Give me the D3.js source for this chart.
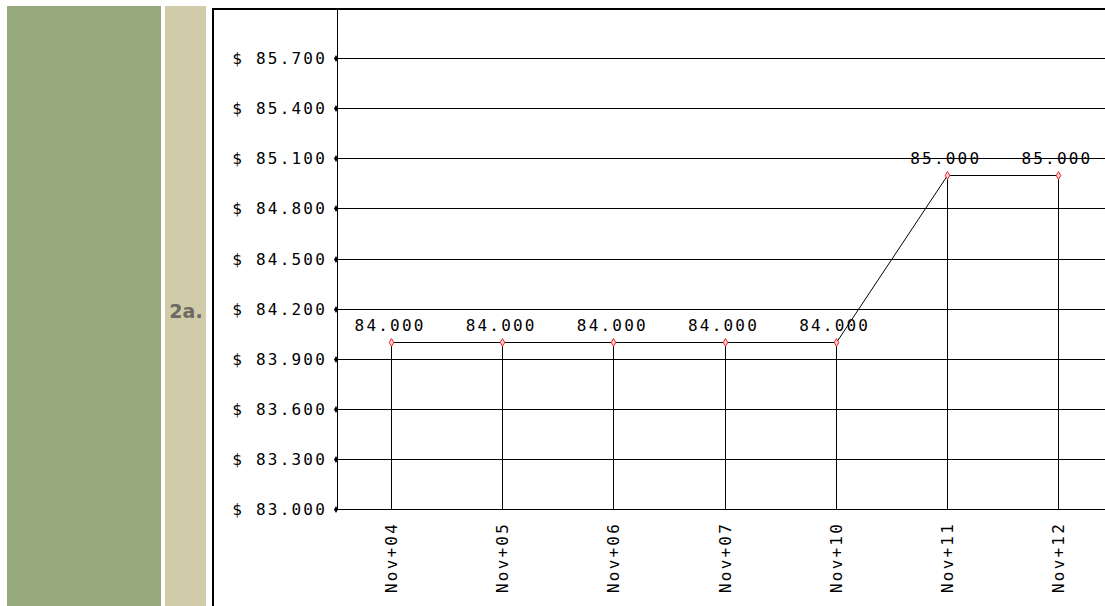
<!DOCTYPE html>
<html>
<head>
<meta charset="utf-8">
<title>2a. Price by day</title>
<style>
  body { margin: 0; background: #fff; }
  svg { display: block; }
  .lbl { font-family: "DejaVu Sans Mono", monospace; font-size: 16px; letter-spacing: 2.2px; fill: #000; }
</style>
</head>
<body>
<script src="https://cdn.jsdelivr.net/npm/d3@7"></script>
<script>
  // data
  var categories = ["Nov+04", "Nov+05", "Nov+06", "Nov+07", "Nov+10", "Nov+11", "Nov+12"];
  var values = [84.0, 84.0, 84.0, 84.0, 84.0, 85.0, 85.0];
  var yTicks = [83.0, 83.3, 83.6, 83.9, 84.2, 84.5, 84.8, 85.1, 85.4, 85.7];
  var yDomain = [83.0, 86.0];
  var sectionLabel = "2a.";

  var W = 1105, H = 606;
  var svg = d3.select("body").append("svg")
      .attr("width", W)
      .attr("height", H);

  // side panels
  svg.append("rect").attr("x", 7).attr("y", 6).attr("width", 154).attr("height", H).attr("fill", "#97aa7e");
  svg.append("rect").attr("x", 165).attr("y", 6).attr("width", 41).attr("height", H).attr("fill", "#d0cba8");
  svg.append("text")
      .attr("x", 186).attr("y", 318)
      .attr("text-anchor", "middle")
      .style("font-family", "DejaVu Sans, Verdana, sans-serif")
      .style("font-weight", "bold")
      .style("font-size", "19px")
      .attr("fill", "#6b6b63")
      .text(sectionLabel);

  // chart frame
  svg.append("rect")
      .attr("x", 213).attr("y", 9)
      .attr("width", W).attr("height", H)
      .attr("fill", "#fff")
      .attr("stroke", "#000")
      .attr("stroke-width", 2);

  var x = d3.scalePoint().domain(categories).range([335.5, 1113.5]).padding(0.5);
  var y = d3.scaleLinear().domain(yDomain).range([509, 8]);
  var x0 = 337;

  var g = svg.append("g").attr("shape-rendering", "crispEdges");

  // horizontal grid
  g.selectAll(".grid").data(yTicks).enter().append("line")
      .attr("x1", x0).attr("x2", W)
      .attr("y1", function (d) { return Math.round(y(d)) + 0.5; })
      .attr("y2", function (d) { return Math.round(y(d)) + 0.5; })
      .attr("stroke", "#000");

  // y axis line
  g.append("line")
      .attr("x1", x0 + 0.5).attr("x2", x0 + 0.5)
      .attr("y1", 8).attr("y2", y(yDomain[0]) + 1)
      .attr("stroke", "#000");

  // y tick markers and labels
  svg.selectAll(".ytick").data(yTicks).enter().append("path")
      .attr("d", d3.symbol().type(d3.symbolDiamond).size(14))
      .attr("transform", function (d) { return "translate(" + (x0 - 1) + "," + (Math.round(y(d)) + 0.5) + ")"; })
      .attr("fill", "#000");
  svg.selectAll(".ylab").data(yTicks).enter().append("text")
      .attr("class", "lbl")
      .attr("x", 327)
      .attr("y", function (d) { return y(d) + 6; })
      .attr("text-anchor", "end")
      .text(function (d) { return "$ " + d3.format(".3f")(d); });

  // drop lines from each point to the x axis
  g.selectAll(".drop").data(categories).enter().append("line")
      .attr("x1", function (d) { return Math.round(x(d)) + 0.5; })
      .attr("x2", function (d) { return Math.round(x(d)) + 0.5; })
      .attr("y1", function (d, i) { return y(values[i]); })
      .attr("y2", y(yDomain[0]))
      .attr("stroke", "#000");

  // series line
  var line = d3.line()
      .x(function (d, i) { return Math.round(x(categories[i])) + 0.5; })
      .y(function (d) { return Math.round(y(d)) + 0.5; });
  svg.append("path")
      .datum(values)
      .attr("d", line)
      .attr("fill", "none")
      .attr("stroke", "#000")
      .attr("stroke-width", 1);

  // point markers
  svg.selectAll(".pt").data(values).enter().append("path")
      .attr("d", d3.symbol().type(d3.symbolDiamond).size(18))
      .attr("transform", function (d, i) { return "translate(" + (Math.round(x(categories[i])) + 0.5) + "," + (Math.round(y(d)) + 0.5) + ")"; })
      .attr("fill", "#ffd0d0")
      .attr("stroke", "#e8262b")
      .attr("stroke-width", 1);

  // value labels
  svg.selectAll(".vlab").data(values).enter().append("text")
      .attr("class", "lbl")
      .attr("x", function (d, i) { return x(categories[i]) - 1; })
      .attr("y", function (d) { return y(d) - 11; })
      .attr("text-anchor", "middle")
      .text(function (d) { return d3.format(".3f")(d); });

  // x labels, rotated
  svg.selectAll(".xlab").data(categories).enter().append("text")
      .attr("class", "lbl")
      .attr("transform", function (d) { return "translate(" + (x(d) + 6) + "," + 522 + ") rotate(-90)"; })
      .attr("text-anchor", "end")
      .text(function (d) { return d; });
</script>
</body>
</html>
